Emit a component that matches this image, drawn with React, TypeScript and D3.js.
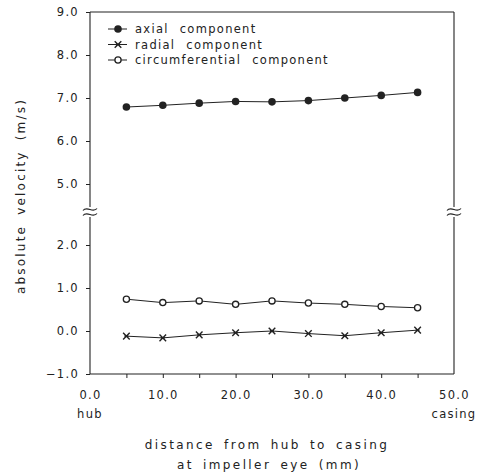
import React, { useRef, useEffect } from "react";
import * as d3 from "d3";

const positions = [5, 10, 15, 20, 25, 30, 35, 40, 45];
const axial = [6.79, 6.83, 6.88, 6.92, 6.91, 6.94, 7.0, 7.06, 7.13];
const radial = [-0.12, -0.16, -0.09, -0.04, 0.0, -0.06, -0.11, -0.04, 0.02];
const circumferential = [0.74, 0.66, 0.7, 0.62, 0.7, 0.65, 0.62, 0.57, 0.54];

const upperTicks = [5, 6, 7, 8, 9];
const lowerTicks = [-1, 0, 1, 2];
const xLabelTicks = [0, 10, 20, 30, 40, 50];
const xMinorTicks = [5, 10, 15, 20, 25, 30, 35, 40, 45];
const legendNames = ["axial component", "radial component", "circumferential component"];

const FONT = "'DejaVu Sans', sans-serif";
const INK = "#222";

const App = () => {
  const ref = useRef<SVGSVGElement>(null);

  useEffect(() => {
    const svg = d3.select(ref.current);
    svg.selectAll("*").remove();

    const x = d3.scaleLinear().domain([0, 50]).range([90, 454]);
    const yUp = d3.scaleLinear().domain([5, 9]).range([184, 12]);
    const yLow = d3.scaleLinear().domain([-1, 2]).range([374, 245]);
    const breakY = 212;

    const g = svg.append("g");

    // frame
    const frame = g.append("g").attr("stroke", INK).attr("stroke-width", 1.1).attr("fill", "none");
    frame.append("line").attr("x1", x(0)).attr("x2", x(50)).attr("y1", yUp(9)).attr("y2", yUp(9));
    frame.append("line").attr("x1", x(0)).attr("x2", x(50)).attr("y1", yLow(-1)).attr("y2", yLow(-1));
    for (const xv of [0, 50]) {
      frame.append("line").attr("x1", x(xv)).attr("x2", x(xv)).attr("y1", yUp(9)).attr("y2", breakY - 5);
      frame.append("line").attr("x1", x(xv)).attr("x2", x(xv)).attr("y1", breakY + 5).attr("y2", yLow(-1));
      // break marks
      for (const dy of [-2.5, 2.5]) {
        const cx = x(xv), cy = breakY + dy;
        frame.append("path")
          .attr("d", `M${cx - 7},${cy + 1} C${cx - 3},${cy - 4} ${cx + 3},${cy + 4} ${cx + 7},${cy - 1}`)
          .attr("stroke-width", 1.2);
      }
    }

    const styleAxis = (sel: any) => {
      sel.select(".domain").remove();
      sel.selectAll("line").attr("stroke", INK);
      sel.selectAll("text").attr("font-family", FONT).attr("font-size", 11.5).attr("fill", INK)
        .attr("letter-spacing", 1.3);
    };

    const fmt = d3.format(".1f");
    g.append("g").attr("transform", `translate(${x(0)},0)`)
      .call(d3.axisLeft(yUp).tickValues(upperTicks).tickFormat((d: any) => fmt(d)).tickSize(4).tickPadding(7))
      .call(styleAxis);
    g.append("g").attr("transform", `translate(${x(0)},0)`)
      .call(d3.axisLeft(yLow).tickValues(lowerTicks).tickFormat((d: any) => fmt(d)).tickSize(4).tickPadding(7))
      .call(styleAxis);

    g.append("g").attr("transform", `translate(0,${yLow(-1)})`)
      .call(d3.axisBottom(x).tickValues(xMinorTicks).tickFormat(() => "").tickSize(4))
      .call(styleAxis);
    g.append("g").attr("transform", `translate(0,${yLow(-1)})`)
      .call(d3.axisBottom(x).tickValues(xLabelTicks).tickFormat((d: any) => fmt(d)).tickSize(0).tickPadding(17))
      .call(styleAxis);

    const label = (sel: any) => sel.attr("font-family", FONT).attr("fill", INK);

    // hub / casing
    g.append("text").attr("x", x(0)).attr("y", 418).attr("text-anchor", "middle")
      .call(label).attr("font-size", 11.5).attr("letter-spacing", 1.3).text("hub");
    g.append("text").attr("x", x(50)).attr("y", 418).attr("text-anchor", "middle")
      .call(label).attr("font-size", 11.5).attr("letter-spacing", 1.3).text("casing");

    // axis titles
    g.append("text").attr("x", 267).attr("y", 449).attr("text-anchor", "middle")
      .call(label).attr("font-size", 12).attr("letter-spacing", 2.4).attr("word-spacing", 3)
      .text("distance from hub to casing");
    g.append("text").attr("x", 269).attr("y", 469).attr("text-anchor", "middle")
      .call(label).attr("font-size", 12).attr("letter-spacing", 2.4).attr("word-spacing", 3)
      .text("at impeller eye (mm)");
    g.append("text").attr("transform", `translate(25,196) rotate(-90)`).attr("text-anchor", "middle")
      .call(label).attr("font-size", 12).attr("letter-spacing", 2.2).attr("word-spacing", 4)
      .text("absolute velocity (m/s)");

    // series
    const lineUp = d3.line<number>().x((d, i) => x(positions[i])).y((d) => yUp(d));
    const lineLow = d3.line<number>().x((d, i) => x(positions[i])).y((d) => yLow(d));

    const drawMarker = (sel: any, kind: string, cx: number, cy: number) => {
      if (kind === "filled") {
        sel.append("circle").attr("cx", cx).attr("cy", cy).attr("r", 3.8).attr("fill", INK);
      } else if (kind === "open") {
        sel.append("circle").attr("cx", cx).attr("cy", cy).attr("r", 3.1).attr("fill", "white")
          .attr("stroke", INK).attr("stroke-width", 1.3);
      } else {
        const s = 3.3;
        sel.append("path")
          .attr("d", `M${cx - s},${cy - s}L${cx + s},${cy + s}M${cx - s},${cy + s}L${cx + s},${cy - s}M${cx - 2},${cy}L${cx + 2},${cy}`)
          .attr("stroke", INK).attr("stroke-width", 1.4).attr("fill", "none");
      }
    };

    const series = [
      { values: axial, line: lineUp, scale: yUp, kind: "filled" },
      { values: radial, line: lineLow, scale: yLow, kind: "cross" },
      { values: circumferential, line: lineLow, scale: yLow, kind: "open" },
    ];
    series.forEach((s) => {
      g.append("path").attr("d", s.line(s.values)).attr("fill", "none").attr("stroke", INK).attr("stroke-width", 1);
      const mg = g.append("g");
      s.values.forEach((v, i) => drawMarker(mg, s.kind, x(positions[i]), s.scale(v)));
    });

    // legend
    const lg = g.append("g");
    legendNames.forEach((name, i) => {
      const ly = 29 + i * 15.5;
      lg.append("line").attr("x1", 108).attr("x2", 127).attr("y1", ly).attr("y2", ly)
        .attr("stroke", INK).attr("stroke-width", 1);
      drawMarker(lg, series[i].kind, 118, ly);
      lg.append("text").attr("x", 135).attr("y", ly + 4).call(label).attr("font-size", 11.5)
        .attr("letter-spacing", 1.3).attr("word-spacing", 6).text(name);
    });
  }, []);

  return (
    <svg ref={ref} width={479} height={476}
      style={{ position: "absolute", left: 0, top: 0, background: "white" }} />
  );
};

export default App;
